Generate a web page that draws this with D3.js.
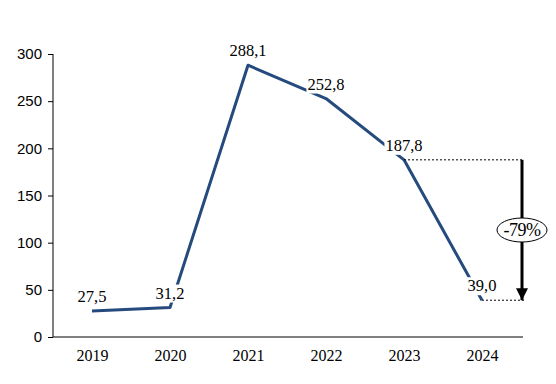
<!DOCTYPE html>
<html>
<head>
<meta charset="utf-8">
<script src="https://cdn.jsdelivr.net/npm/d3@7"></script>
<style>
  body { margin: 0; background: #fff; }
  svg { display: block; }
</style>
</head>
<body>
<svg id="chart" width="556" height="384"></svg>
<script>
var years = ["2019", "2020", "2021", "2022", "2023", "2024"];
var values = [27.5, 31.2, 288.1, 252.8, 187.8, 39.0];
var yTicks = [0, 50, 100, 150, 200, 250, 300];
var changeLabel = "-79%";

var svg = d3.select("#chart");
var plotLeft = 53, plotRight = 521, plotTop = 54, plotBottom = 337;

var x = d3.scalePoint()
    .domain(years)
    .range([plotLeft, plotRight])
    .padding(0.5);
var y = d3.scaleLinear()
    .domain([0, 300])
    .range([plotBottom, plotTop]);

var data = years.map((d, i) => ({ year: d, value: values[i] }));
var fmt = v => d3.format(".1f")(v).replace(".", ",");

// y axis
var yAxis = svg.append("g")
    .attr("transform", "translate(" + plotLeft + ",0)")
    .call(d3.axisLeft(y).tickValues(yTicks).tickSize(5).tickPadding(6));
yAxis.selectAll("text")
    .attr("font-family", "Liberation Sans, Arial, sans-serif")
    .attr("font-size", 15)
    .attr("fill", "#000");
yAxis.selectAll("line, path").attr("stroke", "#000");
yAxis.select(".domain").attr("d", "M0," + plotTop + "V" + plotBottom);

// x axis
var xAxis = svg.append("g")
    .attr("transform", "translate(0," + plotBottom + ")")
    .call(d3.axisBottom(x).tickSize(0).tickPadding(13));
xAxis.select(".domain")
    .attr("d", "M" + plotLeft + ",0H" + (plotRight + 2))
    .attr("stroke", "#000");
xAxis.selectAll("text")
    .attr("font-family", "Liberation Serif, serif")
    .attr("font-size", 16)
    .attr("fill", "#000");

// line
var line = d3.line().x(d => x(d.year)).y(d => y(d.value));
svg.append("path")
    .datum(data)
    .attr("d", line)
    .attr("fill", "none")
    .attr("stroke", "#254a7d")
    .attr("stroke-width", 3)
    .attr("stroke-linejoin", "round");

// change annotation
var last = data[data.length - 1], prev = data[data.length - 2];
var ax = plotRight + 1;
svg.append("line")
    .attr("x1", x(prev.year)).attr("x2", ax + 2)
    .attr("y1", y(prev.value)).attr("y2", y(prev.value))
    .attr("stroke", "#000").attr("stroke-dasharray", "2,2");
svg.append("line")
    .attr("x1", x(last.year)).attr("x2", ax + 2)
    .attr("y1", y(last.value)).attr("y2", y(last.value))
    .attr("stroke", "#000").attr("stroke-dasharray", "2,2");

svg.append("defs").append("marker")
    .attr("id", "arrow")
    .attr("viewBox", "0 0 10 10")
    .attr("refX", 10).attr("refY", 5)
    .attr("markerWidth", 4).attr("markerHeight", 4)
    .attr("orient", "auto")
  .append("path")
    .attr("d", "M0,0L10,5L0,10z")
    .attr("fill", "#000");

svg.append("line")
    .attr("x1", ax).attr("x2", ax)
    .attr("y1", y(prev.value)).attr("y2", y(last.value))
    .attr("stroke", "#000").attr("stroke-width", 3)
    .attr("marker-end", "url(#arrow)");

var midY = 230;
svg.append("ellipse")
    .attr("cx", ax).attr("cy", midY)
    .attr("rx", 25).attr("ry", 12)
    .attr("fill", "#fff").attr("stroke", "#000");
svg.append("text")
    .attr("x", ax).attr("y", midY + 6)
    .attr("text-anchor", "middle")
    .attr("font-family", "Liberation Serif, serif")
    .attr("font-size", 18)
    .attr("letter-spacing", -0.5)
    .text(changeLabel);

// data labels with white background
var labels = svg.append("g").selectAll("g")
    .data(data)
    .join("g");
labels.append("text")
    .attr("x", d => x(d.year))
    .attr("y", d => y(d.value) - 9)
    .attr("text-anchor", "middle")
    .attr("font-family", "Liberation Serif, serif")
    .attr("font-size", 16.5)
    .attr("fill", "#000")
    .text(d => fmt(d.value));
labels.each(function() {
  var g = d3.select(this);
  var b = g.select("text").node().getBBox();
  g.insert("rect", "text")
    .attr("x", b.x - 1).attr("y", b.y + 1)
    .attr("width", b.width + 2).attr("height", b.height - 1)
    .attr("fill", "#fff");
});
</script>
</body>
</html>
